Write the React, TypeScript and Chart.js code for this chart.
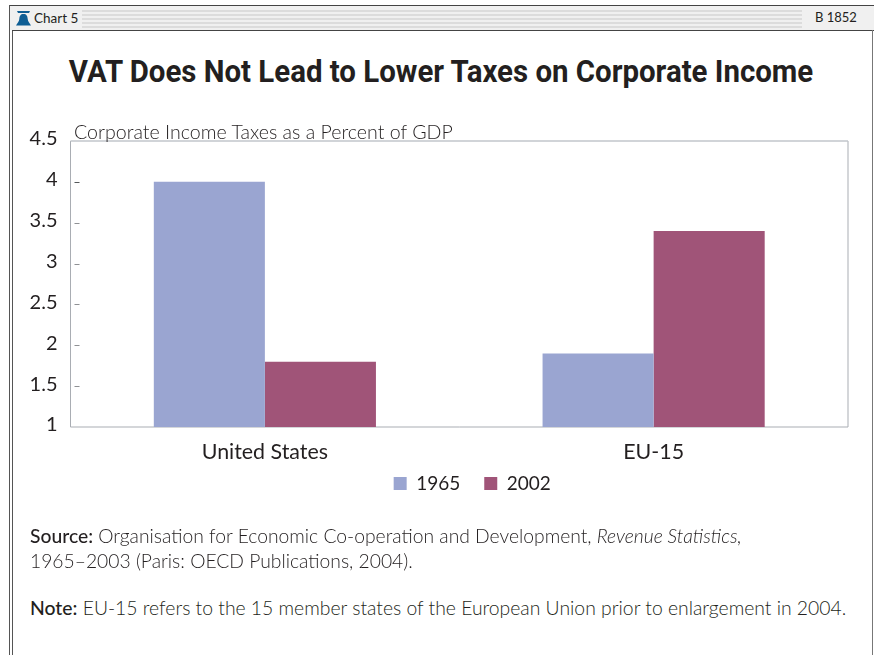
import React, { useEffect, useRef } from "react";
import { Chart, registerables } from "chart.js";

Chart.register(...registerables);

const categories = ["United States", "EU-15"];
const values1965 = [4.0, 1.9];
const values2002 = [1.8, 3.4];
const yTicks = [1, 1.5, 2, 2.5, 3, 3.5, 4, 4.5];

const BLUE = "#9aa5d1";
const PLUM = "#a05478";
const INK = "#231f20";
const BODY_FONT = "Lato, 'Open Sans', sans-serif";

// Short inset marks just right of the value axis.
const insetTicks = {
  id: "insetTicks",
  afterDraw(chart: any) {
    const { ctx, scales, chartArea } = chart;
    ctx.save();
    yTicks.slice(1, -1).forEach((v) => {
      const y = Math.round(scales.y.getPixelForValue(v)) + 0.5;
      ctx.strokeStyle = v === 4 ? "#55585a" : "#8f9194";
      ctx.lineWidth = 1;
      ctx.beginPath();
      ctx.moveTo(chartArea.left + 4, y);
      ctx.lineTo(chartArea.left + 9, y);
      ctx.stroke();
    });
    ctx.restore();
  },
};

// Border of the plot: heavier and paler along the top, thin elsewhere.
const plotBorder = {
  id: "plotBorder",
  beforeDatasetsDraw(chart: any) {
    const { ctx, chartArea: a } = chart;
    ctx.save();
    ctx.lineWidth = 1;
    ctx.strokeStyle = "#a9adb3";
    ctx.beginPath();
    ctx.moveTo(a.left, a.top);
    ctx.lineTo(a.left, a.bottom);
    ctx.lineTo(a.right, a.bottom);
    ctx.lineTo(a.right, a.top);
    ctx.stroke();
    ctx.strokeStyle = "#c2c6cb";
    ctx.lineWidth = 1.5;
    ctx.beginPath();
    ctx.moveTo(a.left, a.top);
    ctx.lineTo(a.right, a.top);
    ctx.stroke();
    ctx.restore();
  },
};

// Moves the legend right of the plot's centre and closer to the category labels.
const legendOffset = {
  id: "legendOffset",
  afterLayout(chart: any) {
    chart.legend.left += 13;
    chart.legend.right += 13;
    chart.legend.top -= 19;
    chart.legend.bottom -= 19;
  },
};

const abs = (
  left: number,
  top: number,
  width: number,
  height: number,
  background: string
): React.CSSProperties => ({ position: "absolute", left, top, width, height, background });

export default function App() {
  const ref = useRef<HTMLCanvasElement>(null);

  useEffect(() => {
    const chart = new Chart(ref.current as HTMLCanvasElement, {
      type: "bar",
      data: {
        labels: categories,
        datasets: [
          { label: "1965", data: values1965, backgroundColor: BLUE },
          { label: "2002", data: values2002, backgroundColor: PLUM },
        ],
      },
      options: {
        animation: false,
        responsive: false,
        datasets: { bar: { barPercentage: 1, categoryPercentage: 0.5714 } },
        layout: { padding: { top: 11, right: 26, left: 0, bottom: 12 } },
        plugins: {
          tooltip: { enabled: false },
          title: { display: false },
          legend: {
            position: "bottom",
            fullSize: false,
            labels: {
              boxWidth: 13,
              boxHeight: 13,
              padding: 24,
              color: INK,
              font: { family: BODY_FONT, size: 19 },
            },
          },
        },
        scales: {
          x: {
            afterFit: (s: any) => {
              s.height = 42;
            },
            grid: { display: false },
            border: { display: false },
            ticks: { color: INK, padding: 4, font: { family: BODY_FONT, size: 21.4 } },
          },
          y: {
            min: 1,
            max: 4.5,
            afterFit: (s: any) => {
              s.width = 70.5;
            },
            afterBuildTicks: (s: any) => {
              s.ticks = yTicks.map((value) => ({ value }));
            },
            grid: { display: false },
            border: { display: false },
            ticks: {
              color: INK,
              padding: 5,
              // The empty second line lifts each label slightly above its tick.
              font: { family: BODY_FONT, size: 20, lineHeight: 0.2 },
              callback: (v: any) => [String(v), ""],
            },
          },
        },
      },
      plugins: [plotBorder, insetTicks, legendOffset],
    } as any);
    return () => chart.destroy();
  }, []);

  const text = (extra: React.CSSProperties): React.CSSProperties => ({
    position: "absolute",
    whiteSpace: "nowrap",
    fontFamily: BODY_FONT,
    color: INK,
    ...extra,
  });

  const stripes = [10, 14, 18, 22, 26];

  return (
    <div style={{ position: "absolute", left: 0, top: 0, width: 874, height: 655, background: "#fff", overflow: "hidden" }}>
      {/* page frame */}
      <div style={abs(9, 5, 865, 1, "#444")} />
      <div style={abs(9, 5, 1, 650, "#555")} />
      <div style={abs(12, 30, 1, 625, "#555")} />
      <div style={abs(10, 6, 864, 24, "#f0f0f0")} />
      {stripes.map((y) => (
        <div key={y} style={abs(82, y, 720, 2, "#dcdcdc")} />
      ))}
      <div style={abs(12, 30, 862, 1, "#444")} />
      <div style={abs(872, 30, 1, 625, "#777")} />

      {/* bell mark in the header */}
      <svg style={{ position: "absolute", left: 16, top: 11 }} width="15" height="15" viewBox="0 0 15 15">
        <path d="M1 0 H14 L13 2 H2 Z" fill="#0d5d94" />
        <path d="M7.5 3 C10.5 3 11.5 5 11.7 8 C11.9 10.5 13.5 12 15 14.5 H0 C1.5 12 3.1 10.5 3.3 8 C3.5 5 4.5 3 7.5 3 Z" fill="#0d5d94" />
      </svg>
      <div style={text({ left: 34, top: 10, fontSize: 13.5, lineHeight: "16px" })}>Chart 5</div>
      <div style={text({ left: 815, top: 9, fontSize: 13, lineHeight: "16px" })}>B 1852</div>

      <div style={text({ left: 0, width: 882, top: 50, textAlign: "center", fontFamily: "Roboto, sans-serif", fontWeight: 700, fontSize: 31, lineHeight: "44px", transform: "scaleX(0.949)" })}>
        VAT Does Not Lead to Lower Taxes on Corporate Income
      </div>

      <canvas ref={ref} width={874} height={404} style={{ position: "absolute", left: 0, top: 130, display: "block" }} />

      <div style={text({ left: 74, top: 120, fontSize: 19.6, fontWeight: 300, lineHeight: "24px" })}>
        Corporate Income Taxes as a Percent of GDP
      </div>

      <div style={text({ left: 30, top: 523, fontSize: 19.3, fontWeight: 300, lineHeight: "25px" })}>
        <span style={{ fontWeight: 500 }}>Source:</span> Organisation for Economic Co-operation and Development, <i>Revenue Statistics,</i>
        <br />
        1965–2003 (Paris: OECD Publications, 2004).
      </div>
      <div style={text({ left: 30, top: 595, fontSize: 19.35, fontWeight: 300, lineHeight: "25px" })}>
        <span style={{ fontWeight: 500 }}>Note:</span> EU-15 refers to the 15 member states of the European Union prior to enlargement in 2004.
      </div>
    </div>
  );
}
